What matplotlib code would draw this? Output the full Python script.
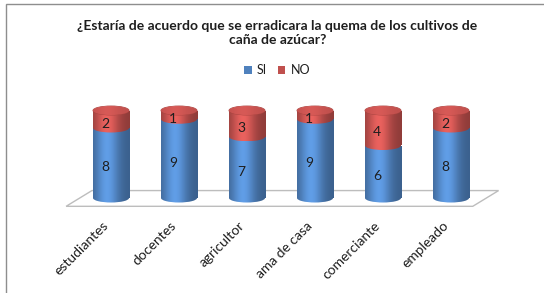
import numpy as np
import matplotlib.pyplot as plt
from matplotlib.patches import Rectangle, Ellipse, Polygon, Patch
from matplotlib.colors import to_rgb

categories = ['estudiantes', 'docentes', 'agricultor', 'ama de casa',
              'comerciante', 'empleado']
si_values = [8, 9, 7, 9, 6, 8]
no_values = [2, 1, 3, 1, 4, 2]
series_names = ['SI', 'NO']
series_colors = ['#4F81BD', '#C0504D']
title = ('¿Estaría de acuerdo que se erradicara la quema de los cultivos de\n'
         'caña de azúcar?')

plt.rcParams['font.family'] = ['Lato', 'DejaVu Sans']

W, H = 544, 293
fig = plt.figure(figsize=(W / 100, H / 100), dpi=100)
ax = fig.add_axes([0, 0, 1, 1])

# pixel anchors: first cylinder centre, spacing, baseline, pixels per unit
x0_px, step_px, base_px, unit_px = 111, 68, 198, 8.75
bar_w = 0.53
ell_h = 1.03


def shade(color, lo=0.74, hi=1.22):
    # horizontal light -> dark gradient to fake a cylinder
    t = np.linspace(0, 1, 64)
    k = lo + (hi - lo) * np.exp(-((t - 0.38) / 0.32) ** 2)
    rgb = np.array(to_rgb(color))
    return np.clip(rgb[None, :] * k[:, None], 0, 1)[None, :, :]


def gradient_patch(patch, color, x, y0, y1, z, **kw):
    ax.add_patch(patch)
    im = ax.imshow(shade(color, **kw), extent=[x - bar_w / 2, x + bar_w / 2, y0, y1],
                   aspect='auto', interpolation='bilinear', zorder=z)
    im.set_clip_path(patch)


# floor
n = len(categories)
floor = Polygon([(-0.66, -0.95), (-0.28, 0.85), (n - 1 + 0.70, 0.85), (n - 1 + 0.32, -0.95)],
                closed=True, facecolor='white', edgecolor='#BDBDBD', lw=1, zorder=1)
ax.add_patch(floor)

for i, (si, no) in enumerate(zip(si_values, no_values)):
    segs = [(0, si, series_colors[0]), (si, si + no, series_colors[1])]
    for j, (v0, v1, col) in enumerate(segs):
        z = 2 + j
        rect = Rectangle((i - bar_w / 2, v0), bar_w, v1 - v0, facecolor='none',
                         edgecolor='none', zorder=z)
        gradient_patch(rect, col, i, v0, v1, z)
        ell = Ellipse((i, v0), bar_w, ell_h, facecolor='none', edgecolor='none', zorder=z)
        gradient_patch(ell, col, i, v0 - ell_h / 2, v0 + ell_h / 2, z)
        ax.text(i - 0.09, (v0 + v1) / 2 - 0.5, str(v1 - v0), ha='center', va='center',
                fontsize=10, color='#1E1E1E', zorder=6)
    total = si + no
    top = Ellipse((i, total), bar_w, ell_h, facecolor='none', edgecolor='#A8433F',
                  lw=0.6, zorder=4)
    gradient_patch(top, series_colors[1], i, total - ell_h / 2, total + ell_h / 2, 4,
                   lo=1.0, hi=1.12)
    ax.text(i - 0.13, -2.45, categories[i], rotation=45, rotation_mode='anchor',
            ha='right', va='top', fontsize=10, color='#1E1E1E')

ax.set_xlim(-x0_px / step_px, (W - x0_px) / step_px)
ax.set_ylim((base_px - H) / unit_px, base_px / unit_px)
ax.axis('off')

fig.text(277.5 / W, 1 - 33.5 / H, title, ha='center', va='center', fontsize=10,
         fontweight='bold', linespacing=1.2, color='#1E1E1E')

handles = [Patch(facecolor=c) for c in series_colors]
fig.legend(handles, series_names, loc='center', bbox_to_anchor=(277 / W, 1 - 70 / H),
           ncol=2, frameon=False, fontsize=9, handlelength=0.6, handleheight=0.6,
           handletextpad=0.4, columnspacing=0.9, borderpad=0, labelcolor='#1E1E1E')

fig.add_artist(Rectangle((6 / W, -0.1), 2, 1.1 - 4 / H, transform=fig.transFigure,
                         fill=False, edgecolor='#8E8E8E', lw=1))

fig.savefig('out.png', dpi=100)
